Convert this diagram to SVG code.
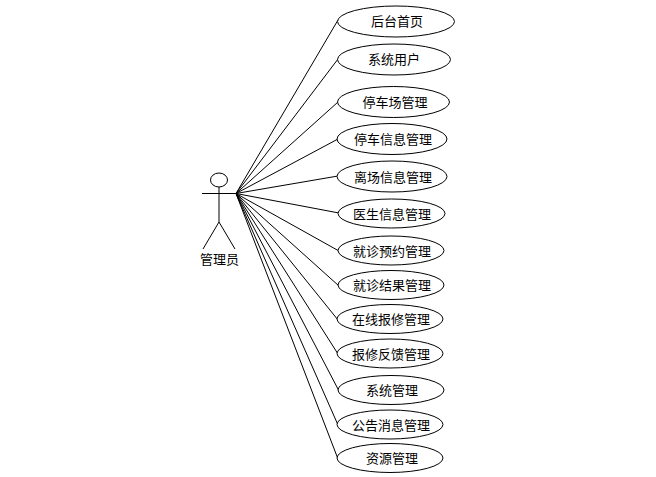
<svg xmlns="http://www.w3.org/2000/svg" width="656" height="477" viewBox="0 0 656 477">
<style>
.s{fill:none;stroke:#000;stroke-width:1}
.n{fill:#fff;stroke:#000;stroke-width:1}
text{font-family:"Noto Sans CJK SC","Liberation Sans",sans-serif;font-size:13px;fill:#000;text-anchor:middle}
</style>
<rect width="656" height="477" fill="#fff"/>
<g id="connectors" class="s">
<path d="M236 193.500L338 20"/>
<path d="M236 193.500L338 59"/>
<path d="M236 193.500L338 102"/>
<path d="M236 193.500L338 139"/>
<path d="M236 193.500L338 176"/>
<path d="M236 193.500L339 213"/>
<path d="M236 193.500L339 251"/>
<path d="M236 193.500L339 286"/>
<path d="M236 193.500L338 320"/>
<path d="M236 193.500L338 354"/>
<path d="M236 193.500L339 391"/>
<path d="M236 193.500L338 425"/>
<path d="M236 193.500L338 459"/>
</g>
<g id="actor">
<g class="s">
<ellipse cx="219" cy="180" rx="8.500" ry="7"/>
<path d="M219 187V222M202 193.500H236M219 222L203 249M219 222L235 249"/>
</g>
<text x="219.500" y="264">管理员</text>
</g>
<g id="n1"><ellipse class="n" cx="396" cy="21.500" rx="58.500" ry="15.500"/><text x="397" y="26">后台首页</text></g>
<g id="n2"><ellipse class="n" cx="394" cy="59.500" rx="56.500" ry="15.500"/><text x="394" y="64">系统用户</text></g>
<g id="n3"><ellipse class="n" cx="393.500" cy="102" rx="56" ry="15.500"/><text x="395" y="107">停车场管理</text></g>
<g id="n4"><ellipse class="n" cx="392" cy="139" rx="55" ry="15.500"/><text x="393" y="144">停车信息管理</text></g>
<g id="n5"><ellipse class="n" cx="392" cy="176.500" rx="55" ry="15.500"/><text x="393" y="182">离场信息管理</text></g>
<g id="n6"><ellipse class="n" cx="391.500" cy="213.500" rx="53.500" ry="14.500"/><text x="392" y="219">医生信息管理</text></g>
<g id="n7"><ellipse class="n" cx="391" cy="250.500" rx="53" ry="14.500"/><text x="392" y="256">就诊预约管理</text></g>
<g id="n8"><ellipse class="n" cx="391" cy="285" rx="53" ry="14.500"/><text x="392" y="290">就诊结果管理</text></g>
<g id="n9"><ellipse class="n" cx="390" cy="319" rx="53" ry="14.500"/><text x="391" y="324">在线报修管理</text></g>
<g id="n10"><ellipse class="n" cx="390" cy="353.500" rx="53" ry="14.500"/><text x="391" y="359">报修反馈管理</text></g>
<g id="n11"><ellipse class="n" cx="391" cy="390" rx="53" ry="14.500"/><text x="392" y="395">系统管理</text></g>
<g id="n12"><ellipse class="n" cx="390" cy="424.500" rx="53" ry="14.500"/><text x="391" y="430">公告消息管理</text></g>
<g id="n13"><ellipse class="n" cx="390" cy="458" rx="53" ry="14.500"/><text x="392" y="463">资源管理</text></g>
</svg>
